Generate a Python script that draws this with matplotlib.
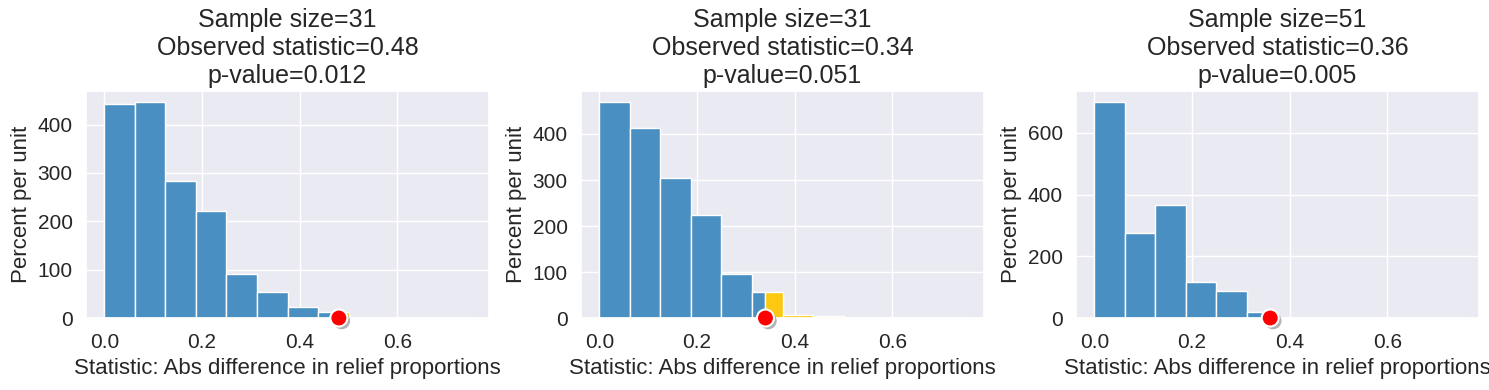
import numpy as np
import matplotlib
matplotlib.use('Agg')
import matplotlib.pyplot as plt
import matplotlib.patheffects as pe
import seaborn as sns

sns.set_theme(style='darkgrid')
plt.rcParams['font.family'] = ['Liberation Sans', 'DejaVu Sans']

# bin edges shared by the three histograms
bin_edges = [0.0, 0.0625, 0.125, 0.1875, 0.25, 0.3125, 0.375,
             0.4375, 0.5, 0.5625, 0.625, 0.6875, 0.75]

sample_sizes = [31, 31, 51]
observed = [0.48, 0.34, 0.36]
p_values = ['0.012', '0.051', '0.005']

# percent per unit for each bin
heights_1 = [443, 447, 283, 221, 92, 54, 23, 13, 0.6, 0.6, 0, 0]
heights_2 = [470, 414, 305, 225, 96, 57, 6.5, 4.3, 0, 0.5, 0, 0]
heights_3 = [701, 276, 368, 116, 88, 19, 1, 1, 0, 0, 0, 0]
all_heights = [heights_1, heights_2, heights_3]

blue = '#4a8fc2'
yellow = '#fcc812'

fig, axes = plt.subplots(1, 3, figsize=(14.89, 3.9), dpi=100)
plt.subplots_adjust(left=0.0578, right=0.9933, bottom=0.1846, top=0.7667, wspace=0.2283)

for ax, n, obs, pv, heights in zip(axes, sample_sizes, observed, p_values, all_heights):
    for i, h in enumerate(heights):
        lo, hi = bin_edges[i], bin_edges[i + 1]
        if hi <= obs:
            ax.bar(lo, h, width=hi - lo, align='edge', color=blue, edgecolor='white', linewidth=1)
        elif lo >= obs:
            ax.bar(lo, h, width=hi - lo, align='edge', color=yellow, edgecolor='white', linewidth=1)
        else:
            ax.bar(lo, h, width=obs - lo, align='edge', color=blue, edgecolor='white', linewidth=1)
            ax.bar(obs, h, width=hi - obs, align='edge', color=yellow, edgecolor='white', linewidth=1)
    ylim = ax.get_ylim()
    ax.scatter([obs], [0], s=150, color='red', edgecolor='white', linewidth=1.5,
               zorder=10, clip_on=False,
               path_effects=[pe.SimplePatchShadow(offset=(2, -2), shadow_rgbFace='gray', alpha=0.6),
                             pe.Normal()])
    ax.set_ylim(0, ylim[1])
    ax.set_xlim(-0.0375, 0.7875)
    ax.set_xticks([0.0, 0.2, 0.4, 0.6])
    ax.tick_params(labelsize=15)
    ax.tick_params(axis='x', pad=5)
    ax.set_xlabel('Statistic: Abs difference in relief proportions', fontsize=16)
    ax.set_ylabel('Percent per unit', fontsize=16)
    ax.set_title('Sample size=%d\nObserved statistic=%.2f\np-value=%s' % (n, obs, pv), fontsize=18)

plt.savefig('out.png', dpi=100)
